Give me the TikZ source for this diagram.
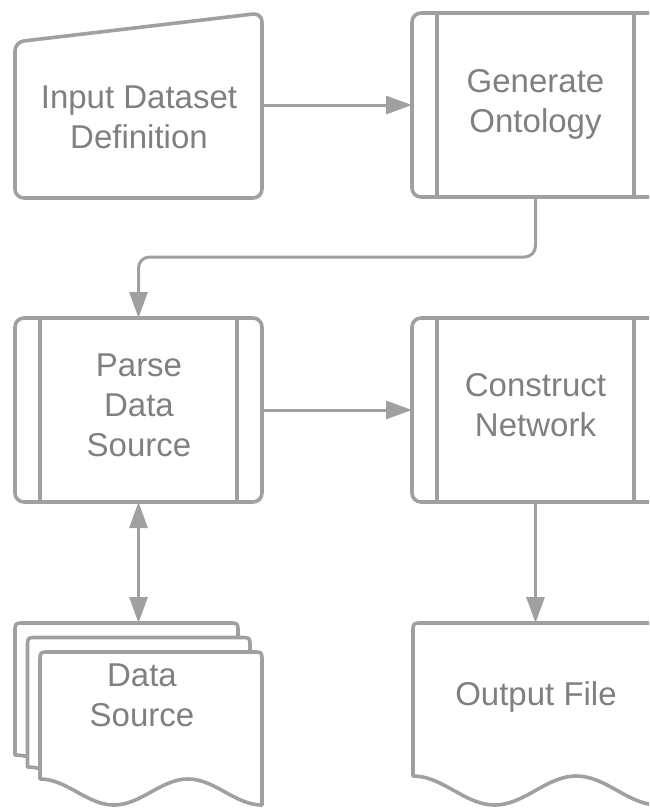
\documentclass[tikz,border=0pt]{standalone}
\usepackage{fontspec}
\setmainfont{Liberation Sans}
\usetikzlibrary{arrows.meta,calc}
\definecolor{edge}{HTML}{A0A0A0}
\definecolor{ink}{HTML}{808080}

% document sheet with a wavy bottom: left, top, right, left-bottom (crest), trough
\newcommand{\docsheet}[5]{%
  \draw[outline] (#1,#4) -- (#1,{#2+9}) .. controls (#1,#2) .. ({#1+9},#2)
    -- ({#3-9},#2) .. controls (#3,#2) .. (#3,{#2+9}) -- (#3,#5)
    -- plot[domain=1:0, samples=60, smooth]
       ({#1+(#3-#1)*\x}, {(#4+#5)/2 + (#5-#4)/2*cos(540*(\x-1/3))}) -- cycle;}

\begin{document}
\begin{tikzpicture}[x=1pt, y=-1pt,
  outline/.style={draw=edge, line width=3.6pt, fill=white, line join=round},
  divider/.style={draw=edge, line width=3.6pt},
  boxframe/.style={minimum width=247pt, minimum height=184pt, inner sep=0pt, outer sep=0pt},
  txt/.style={text=ink, font=\fontsize{33}{40}\selectfont, align=center, inner sep=0pt},
  link/.style={draw=edge, line width=3pt, -{Triangle[length=26pt,width=18pt]}},
  duplex/.style={draw=edge, line width=3pt, {Triangle[length=26pt,width=18pt]}-{Triangle[length=26pt,width=18pt]}},
]
\clip (0,0) rectangle (649,808);
\fill[white] (0,0) rectangle (649,808);

% anchor frames of the steps
\node[boxframe, minimum height=185pt] (input) at (138.5,105.5) {};
\node[boxframe] (gen)   at (535.5,105) {};
\node[boxframe] (parse) at (138.5,410) {};
\node[boxframe] (cons)  at (535.5,410) {};
\node[boxframe, minimum width=245pt, minimum height=182pt] (out) at (535.5,714) {};
\node[boxframe, minimum width=223pt, minimum height=160pt] (databack) at (126.5,703) {};

% manual input
\draw[outline, rounded corners=9pt]
  ($(input.south west)!0.5!(input.south east)$) -- (input.south west)
  -- ([yshift=-29pt]input.north west) -- (input.north east)
  -- (input.south east) -- cycle;

% predefined processes
\foreach \b in {gen,parse,cons}{
  \draw[outline, rounded corners=9pt] (\b.south west) rectangle (\b.north east);
  \draw[divider] ([xshift=25pt]\b.north west) -- ([xshift=25pt]\b.south west);
  \draw[divider] ([xshift=-25pt]\b.north east) -- ([xshift=-25pt]\b.south east);
}

% stacked data sheets and output document
\docsheet{15}{623}{238}{755}{780}
\docsheet{27.5}{637.5}{250}{767}{792}
\docsheet{40}{652}{262}{779}{805}
\docsheet{413}{623}{658}{776}{805}

% labels
\node[txt] (inputtext) at (139,117.5) {Input Dataset\\Definition};
\node[txt] (gentext)   at (535.5,104.5) {Generate\\Ontology};
\node[txt] (parsetext) at (139,405.5) {Parse\\Data\\Source};
\node[txt] (constext)  at (535.5,405.5) {Construct\\Network};
\node[txt] (datatext)  at (142,695) {Data\\Source};
\node[txt] (outtext)   at (536,696.5) {Output File};

% connectors
\coordinate (turn) at (535.5,257);
\draw[link] (input.east |- gen.west) -- (gen.west);
\draw[link, rounded corners=11pt] (gen.south) -- (turn) -| (parse.north);
\draw[link] (parse.east) -- (cons.west);
\draw[link] (cons.south) -- (out.north);
\draw[duplex] (parse.south) -- (parse.south |- databack.north);
\end{tikzpicture}
\end{document}
